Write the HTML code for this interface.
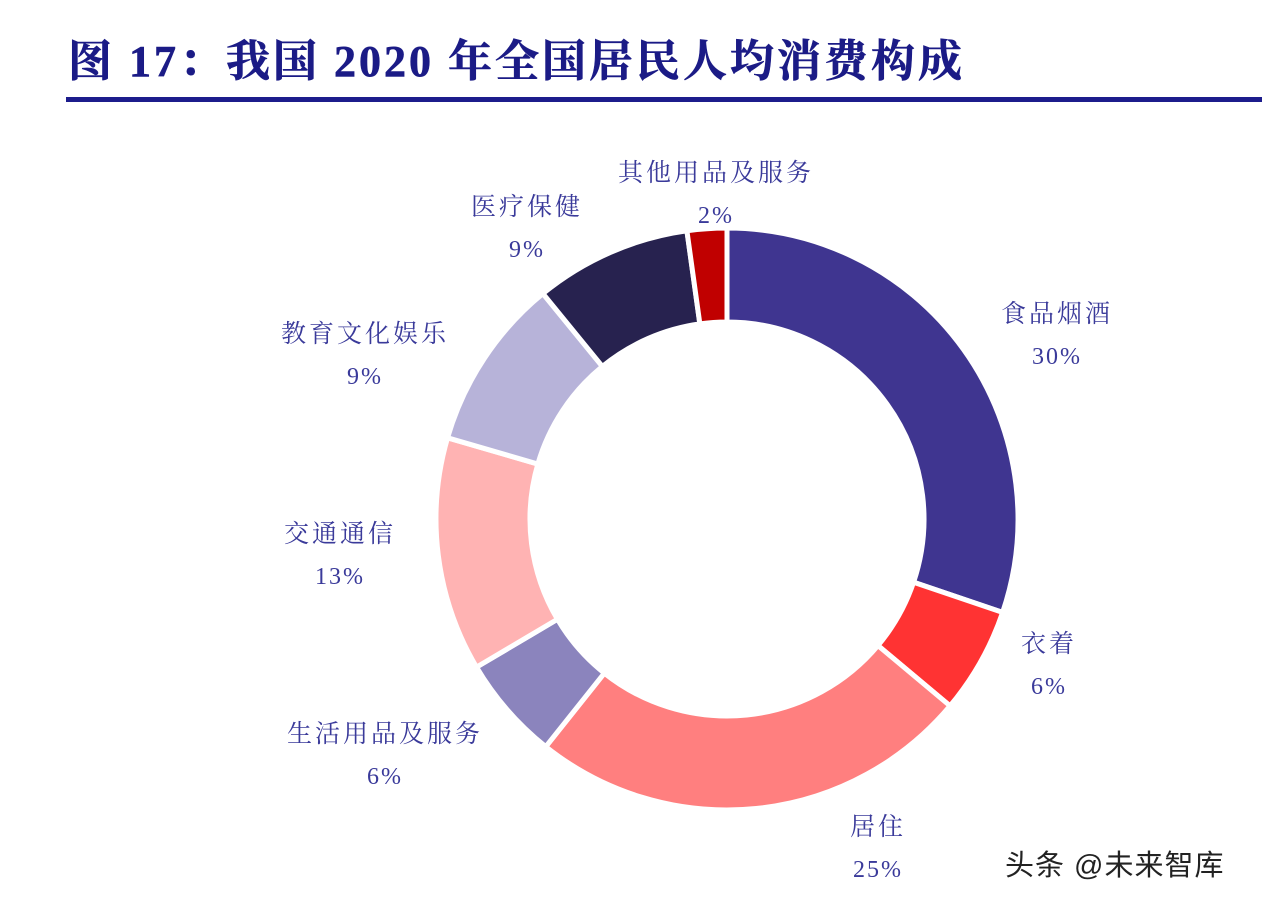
<!DOCTYPE html>
<html><head><meta charset="utf-8"><style>
html,body{margin:0;padding:0;background:#fff;}
body{width:1262px;height:906px;position:relative;overflow:hidden;font-family:"Liberation Serif","Noto Serif CJK SC",serif;}
#title{position:absolute;left:68px;top:25px;font-size:44px;font-weight:bold;color:#1b1b86;letter-spacing:3px;white-space:nowrap;-webkit-text-stroke:0.6px #1b1b86;}
#rule{position:absolute;left:66px;top:97px;width:1196px;height:5px;background:#1c1c8c;}
#wm{position:absolute;left:1005px;top:842px;font-family:"Liberation Sans","Noto Sans CJK SC",sans-serif;font-size:29px;color:#222;white-space:nowrap;letter-spacing:1px;}
</style></head><body>
<div id="title">图 17：我国 2020 年全国居民人均消费构成</div>
<div id="rule"></div>
<svg id="chart" width="1262" height="906" style="position:absolute;left:0;top:0"></svg>
<div id="wm">头条 @未来智库</div>
<script>
const categories=["食品烟酒","衣着","居住","生活用品及服务","交通通信","教育文化娱乐","医疗保健","其他用品及服务"];
const values=[30.2,5.9,24.6,5.8,13.0,9.6,8.7,2.2];
const valueLabels=["30%","6%","25%","6%","13%","9%","9%","2%"];
const colors=["#3f3590","#ff3333","#ff7f7f","#8b84bd","#ffb3b3","#b7b3d9","#27224f","#c00000"];
const labelPos=[[1057,313],[1049,643],[878,826],[385,733],[340,533],[365,333],[527,206],[716,172]];
const svg=document.getElementById('chart');
const NS='http://www.w3.org/2000/svg';
const cx=727,cy=519,R=291,r=197;
const total=values.reduce((a,b)=>a+b,0);
function pt(a,rad){return [cx+rad*Math.sin(a),cy-rad*Math.cos(a)];}
let acc=0;
values.forEach((v,i)=>{
  const a0=acc/total*2*Math.PI;acc+=v;const a1=acc/total*2*Math.PI;
  const large=(a1-a0)>Math.PI?1:0;
  const p0=pt(a0,R),p1=pt(a1,R),q1=pt(a1,r),q0=pt(a0,r);
  const p=document.createElementNS(NS,'path');
  p.setAttribute('d',`M${p0[0]},${p0[1]}A${R},${R} 0 ${large} 1 ${p1[0]},${p1[1]}L${q1[0]},${q1[1]}A${r},${r} 0 ${large} 0 ${q0[0]},${q0[1]}Z`);
  p.setAttribute('fill',colors[i]);p.setAttribute('stroke','#fff');p.setAttribute('stroke-width','5');
  
  
  svg.appendChild(p);
  const [lx,ly]=labelPos[i];
  const t=document.createElementNS(NS,'text');
  t.setAttribute('x',lx);t.setAttribute('y',ly+9);t.setAttribute('text-anchor','middle');
  t.setAttribute('font-size','25');t.setAttribute('fill','#3a3a9a');t.setAttribute('letter-spacing','3');
  t.setAttribute('font-family','"Liberation Serif","Noto Serif CJK SC",serif');
  t.textContent=categories[i];
  
  
  svg.appendChild(t);
  const t2=document.createElementNS(NS,'text');
  t2.setAttribute('x',lx);t2.setAttribute('y',ly+51);t2.setAttribute('text-anchor','middle');
  t2.setAttribute('font-size','24');t2.setAttribute('fill','#3a3a9a');t2.setAttribute('letter-spacing','2');
  t2.setAttribute('font-family','"Liberation Serif",serif');
  t2.textContent=valueLabels[i];
  
  
  svg.appendChild(t2);
});
</script>
</body></html>
